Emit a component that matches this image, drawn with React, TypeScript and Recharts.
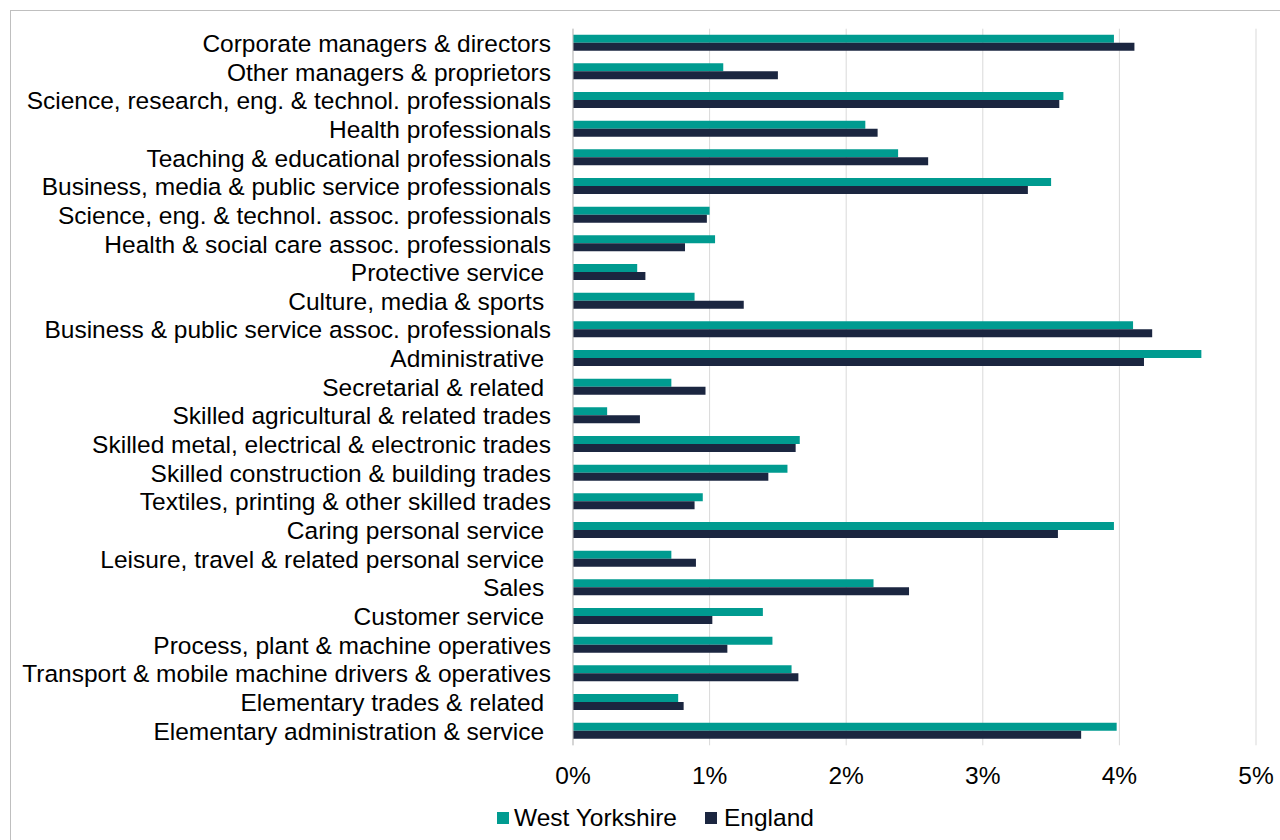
import React from 'react';
import { BarChart, Bar, XAxis, YAxis, CartesianGrid } from 'recharts';

const categories = [
  'Corporate managers & directors',
  'Other managers & proprietors',
  'Science, research, eng. & technol. professionals',
  'Health professionals',
  'Teaching & educational professionals',
  'Business, media & public service professionals',
  'Science, eng. & technol. assoc. professionals',
  'Health & social care assoc. professionals',
  'Protective service ',
  'Culture, media & sports ',
  'Business & public service assoc. professionals',
  'Administrative ',
  'Secretarial & related ',
  'Skilled agricultural & related trades',
  'Skilled metal, electrical & electronic trades',
  'Skilled construction & building trades',
  'Textiles, printing & other skilled trades',
  'Caring personal service ',
  'Leisure, travel & related personal service ',
  'Sales ',
  'Customer service ',
  'Process, plant & machine operatives',
  'Transport & mobile machine drivers & operatives',
  'Elementary trades & related ',
  'Elementary administration & service ',
];

const westYorkshire = [
  3.96, 1.10, 3.59, 2.14, 2.38, 3.50, 1.00, 1.04, 0.47, 0.89, 4.10, 4.60, 0.72,
  0.25, 1.66, 1.57, 0.95, 3.96, 0.72, 2.20, 1.39, 1.46, 1.60, 0.77, 3.98,
];

const england = [
  4.11, 1.50, 3.56, 2.23, 2.60, 3.33, 0.98, 0.82, 0.53, 1.25, 4.24, 4.18, 0.97,
  0.49, 1.63, 1.43, 0.89, 3.55, 0.90, 2.46, 1.02, 1.13, 1.65, 0.81, 3.72,
];

const xTicks = [0, 1, 2, 3, 4, 5];

const WY_COLOR = '#009B90';
const ENG_COLOR = '#1B2640';
const FONT = "'Liberation Sans', Arial, sans-serif";

const data = categories.map((name, i) => ({
  name,
  wy: westYorkshire[i],
  eng: england[i],
}));

const CategoryTick = (props: any) => {
  const { x, y, payload } = props;
  return (
    <text
      x={x - 14}
      y={y}
      dy="0.36em"
      textAnchor="end"
      fontFamily={FONT}
      fontSize={24.5}
      fill="#000"
    >
      {String(payload.value).replace(/ $/, '\u00a0')}
    </text>
  );
};

const PercentTick = (props: any) => {
  const { x, y, payload } = props;
  return (
    <text
      x={x}
      y={y + 31}
      textAnchor="middle"
      fontFamily={FONT}
      fontSize={24.5}
      fill="#000"
    >
      {payload.value}%
    </text>
  );
};

export default function App() {
  return (
    <div
      style={{
        position: 'fixed',
        left: 0,
        top: 0,
        width: 1280,
        height: 840,
        background: '#fff',
        overflow: 'hidden',
      }}
    >
      <div
        style={{
          position: 'absolute',
          left: 10,
          top: 10,
          width: 1300,
          height: 860,
          border: '1px solid #bfbfbf',
        }}
      />
      <BarChart
        width={1280}
        height={840}
        data={data}
        layout="vertical"
        margin={{ top: 28.7, right: 24, bottom: 64.7, left: 0 }}
        barGap={0}
        barSize={8}
        style={{ position: 'absolute', left: 0, top: 0 }}
      >
        <CartesianGrid horizontal={false} stroke="#d9d9d9" />
        <XAxis
          type="number"
          domain={[0, 5]}
          ticks={xTicks}
          height={30}
          axisLine={false}
          tickLine={false}
          tick={<PercentTick />}
          interval={0}
        />
        <YAxis
          type="category"
          dataKey="name"
          width={573}
          interval={0}
          axisLine={{ stroke: '#bfbfbf' }}
          tickLine={false}
          tick={<CategoryTick />}
        />
        <Bar dataKey="wy" name="West Yorkshire" fill={WY_COLOR} isAnimationActive={false} />
        <Bar dataKey="eng" name="England" fill={ENG_COLOR} isAnimationActive={false} />
      </BarChart>
      <div
        style={{
          position: 'absolute',
          left: 497,
          top: 804,
          height: 28,
          display: 'flex',
          alignItems: 'center',
          fontFamily: FONT,
          fontSize: 24.5,
          color: '#000',
          whiteSpace: 'nowrap',
        }}
      >
        <span style={{ width: 12, height: 12, background: WY_COLOR, marginRight: 5 }} />
        <span style={{ marginRight: 28 }}>West Yorkshire</span>
        <span style={{ width: 12, height: 12, background: ENG_COLOR, marginRight: 7 }} />
        <span>England</span>
      </div>
    </div>
  );
}
